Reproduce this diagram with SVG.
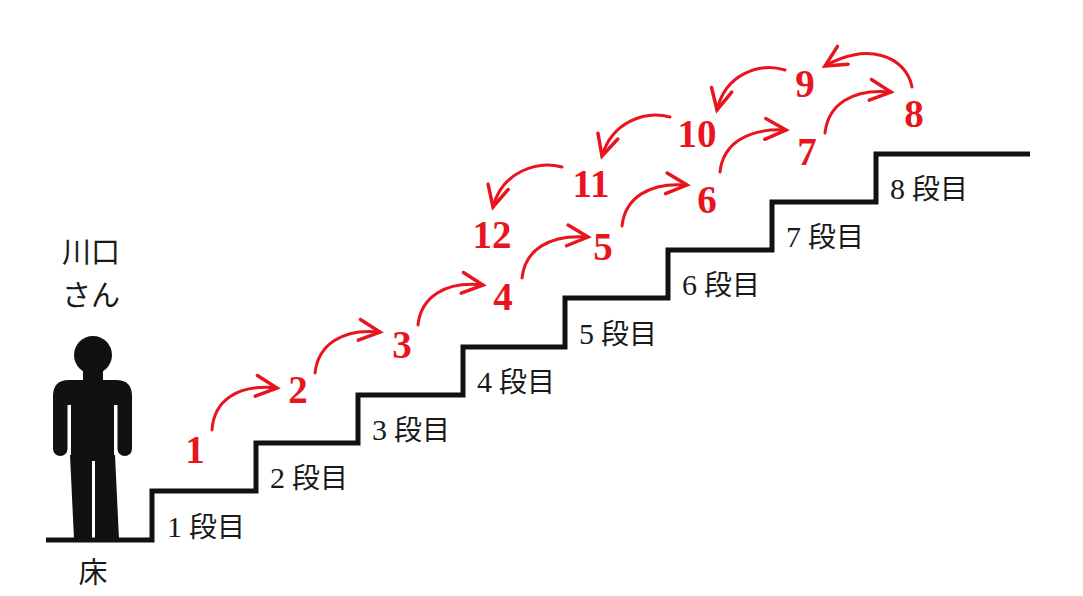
<svg xmlns="http://www.w3.org/2000/svg" width="1083" height="596" viewBox="0 0 1083 596">
<style>
.lbl{font-family:"Liberation Serif","Noto Sans CJK JP",serif;font-size:28px;fill:#1a1a1a}
.lbl .d{font-size:30px}
.jp{font-family:"Noto Sans CJK JP",sans-serif;font-size:29px;fill:#1a1a1a;text-anchor:middle}
.num{font-family:"Liberation Serif",serif;font-weight:bold;font-size:39px;fill:#e8141e;text-anchor:middle}
.arr{fill:none;stroke:#e8141e;stroke-width:3;stroke-linecap:round;marker-end:url(#ah)}
.stair{fill:none;stroke:#111;stroke-width:5;stroke-linejoin:miter}
</style>
<defs>
<marker id="ah" markerUnits="userSpaceOnUse" markerWidth="30" markerHeight="30" viewBox="-22 -12 26 24" refX="0" refY="0" orient="auto">
<path d="M-18,-9 L0,0 L-18,9" fill="none" stroke="#e8141e" stroke-width="3" stroke-linecap="round" stroke-linejoin="miter"/>
</marker>
</defs>
<rect width="1083" height="596" fill="#fff"/>

<g id="stairs">
<path class="stair" d="M46,540 H152 V491 H256 V443 H358 V395 H463 V347 H565 V298 H668 V250 H772 V202 H876 V154 H1030"/>
</g>

<g id="person">
<circle cx="93" cy="355" r="19" fill="#111"/>
<rect x="83" y="368" width="20" height="16" fill="#111"/>
<path d="M53,396 Q53,380 69,380 L116,380 Q132,380 132,396 L132,405 L53,405 Z" fill="#111"/>
<rect x="53" y="390" width="14.5" height="66" rx="7.25" fill="#111"/>
<rect x="117.5" y="390" width="14.5" height="66" rx="7.25" fill="#111"/>
<rect x="71" y="395" width="43" height="66" fill="#111"/>
<path d="M70,455 L92,455 L92,539 L74,539 Z" fill="#111"/>
<path d="M95,455 L115,455 L119,539 L95,539 Z" fill="#111"/>
</g>

<g id="person-label">
<text class="jp" x="91" y="263">川口</text>
<text class="jp" x="91" y="306">さん</text>
<text class="jp" x="93" y="583">床</text>
</g>

<g id="step-labels">
<text class="lbl" x="167" y="537"><tspan class="d">1</tspan> 段目</text>
<text class="lbl" x="270" y="488"><tspan class="d">2</tspan> 段目</text>
<text class="lbl" x="372" y="440"><tspan class="d">3</tspan> 段目</text>
<text class="lbl" x="477" y="392"><tspan class="d">4</tspan> 段目</text>
<text class="lbl" x="579" y="344"><tspan class="d">5</tspan> 段目</text>
<text class="lbl" x="682" y="295"><tspan class="d">6</tspan> 段目</text>
<text class="lbl" x="786" y="247"><tspan class="d">7</tspan> 段目</text>
<text class="lbl" x="890" y="199"><tspan class="d">8</tspan> 段目</text>
</g>

<g id="numbers">
<text class="num" x="195" y="463">1</text>
<text class="num" x="298" y="403">2</text>
<text class="num" x="402" y="358">3</text>
<text class="num" x="503" y="310">4</text>
<text class="num" x="603" y="260">5</text>
<text class="num" x="707" y="213">6</text>
<text class="num" x="807" y="165">7</text>
<text class="num" x="914" y="127">8</text>
<text class="num" x="805" y="97">9</text>
<text class="num" x="697" y="147">10</text>
<text class="num" x="591" y="197">11</text>
<text class="num" x="492" y="248">12</text>
</g>

<g id="connectors">
<path class="arr" d="M212,430 C214,400 238,384 277,388"/>
<path class="arr" d="M315,373 C318,345 342,328 380,332"/>
<path class="arr" d="M418,325 C421,297 445,281 483,285"/>
<path class="arr" d="M522,278 C525,250 549,234 588,237"/>
<path class="arr" d="M622,226 C625,198 649,182 687,185"/>
<path class="arr" d="M720,172 C723,144 747,128 786,130"/>
<path class="arr" d="M825,133 C828,105 852,88 891,92"/>
<path class="arr" d="M912,87 C906,55 865,42 825,66"/>
<path class="arr" d="M785,70 C758,62 725,75 717,110"/>
<path class="arr" d="M670,117 C645,110 612,122 602,156"/>
<path class="arr" d="M562,167 C537,160 502,172 493,207"/>
</g>
</svg>
